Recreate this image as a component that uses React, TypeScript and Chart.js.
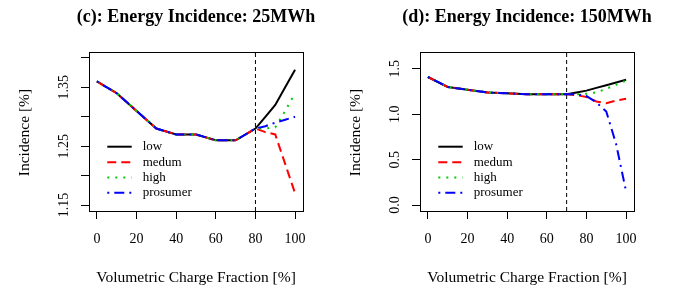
import React, { useEffect, useRef } from "react";
import { Chart, registerables } from "chart.js";

Chart.register(...registerables);

// ---------- data ----------
const X_TICKS = [0, 20, 40, 60, 80, 100];
const LEGEND_LABELS = ["low", "medum", "high", "prosumer"];

// Panel (c): 25 MWh
const TITLE_25 = "(c): Energy Incidence: 25MWh";
const X_25 = [0, 10, 20, 30, 40, 50, 60, 70, 80, 85, 90, 95, 100];
const LOW_25 = [1.36, 1.34, 1.31, 1.28, 1.27, 1.27, 1.26, 1.26, 1.28, 1.3, 1.32, 1.35, 1.38];
const MED_25 = [1.36, 1.34, 1.31, 1.28, 1.27, 1.27, 1.26, 1.26, 1.28, 1.274, 1.27, 1.22, 1.17];
const HIGH_25 = [1.36, 1.34, 1.31, 1.28, 1.27, 1.27, 1.26, 1.26, 1.28, 1.28, 1.282, 1.31, 1.34];
const PROS_25 = [1.36, 1.34, 1.31, 1.28, 1.27, 1.27, 1.26, 1.26, 1.28, 1.284, 1.29, 1.295, 1.3];
const VLINE_25 = 80;
const Y_TICKS_25 = [1.15, 1.2, 1.25, 1.3, 1.35, 1.4];
const Y_LABELS_25 = ["1.15", "", "1.25", "", "1.35", ""];
const Y_RANGE_25 = [1.14, 1.41];

// Panel (d): 150 MWh
const TITLE_150 = "(d): Energy Incidence: 150MWh";
const X_150 = [0, 10, 20, 30, 40, 50, 60, 70, 75, 80, 85, 90, 95, 100];
const LOW_150 = [1.41, 1.3, 1.27, 1.24, 1.23, 1.22, 1.22, 1.22, 1.24, 1.26, 1.29, 1.32, 1.35, 1.38];
const MED_150 = [1.41, 1.3, 1.27, 1.24, 1.23, 1.22, 1.22, 1.22, 1.21, 1.19, 1.14, 1.12, 1.15, 1.17];
const HIGH_150 = [1.41, 1.3, 1.27, 1.24, 1.23, 1.22, 1.22, 1.22, 1.22, 1.225, 1.24, 1.28, 1.325, 1.37];
const PROS_150 = [1.41, 1.3, 1.27, 1.24, 1.23, 1.22, 1.22, 1.22, 1.22, 1.2, 1.13, 1.03, 0.67, 0.15];
const VLINE_150 = 70;
const Y_TICKS_150 = [0, 0.5, 1.0, 1.5];
const Y_LABELS_150 = ["0.0", "0.5", "1.0", "1.5"];
const Y_RANGE_150 = [-0.065, 1.685];

const X_RANGE = [-4, 104];
const X_TITLE = "Volumetric Charge Fraction [%]";
const Y_TITLE = "Incidence [%]";

// ---------- styles ----------
const FONT = '"Liberation Serif", "DejaVu Serif", serif';
const SERIES_STYLE = [
  { color: "#000000", dash: [] as number[] },
  { color: "#FF0000", dash: [9, 5] },
  { color: "#00CD00", dash: [2, 6] },
  { color: "#0000FF", dash: [2, 5, 10, 5] },
];

type PanelProps = {
  width: number;
  boxLeft: number;
  boxRight: number;
  title: string;
  xs: number[];
  series: number[][];
  vline: number;
  yTicks: number[];
  yLabels: string[];
  yRange: number[];
};

const BOX_TOP = 52;
const BOX_BOTTOM = 211;
const HEIGHT = 288;

function Panel(p: PanelProps) {
  const ref = useRef<HTMLCanvasElement>(null);
  useEffect(() => {
    if (!ref.current) return;
    const datasets: any[] = p.series.map((ys, i) => ({
      label: LEGEND_LABELS[i],
      data: p.xs.map((x, j) => ({ x, y: ys[j] })),
      borderColor: SERIES_STYLE[i].color,
      borderWidth: 2,
      borderDash: SERIES_STYLE[i].dash,
      borderCapStyle: "butt",
      pointRadius: 0,
      tension: 0,
      fill: false,
      order: 4 - i,
    }));
    datasets.push({
      label: "threshold",
      data: [
        { x: p.vline, y: p.yRange[0] },
        { x: p.vline, y: p.yRange[1] },
      ],
      borderColor: "#000000",
      borderWidth: 1,
      borderDash: [4, 3],
      pointRadius: 0,
      fill: false,
      order: 10,
    });

    const decor = {
      id: "decor",
      afterDraw(chart: any) {
        const ctx = chart.ctx;
        const a = chart.chartArea;
        const ys = chart.scales.y;
        ctx.save();
        // box
        ctx.strokeStyle = "#000";
        ctx.lineWidth = 1;
        ctx.setLineDash([]);
        ctx.strokeRect(Math.round(a.left) + 0.5, Math.round(a.top) + 0.5, Math.round(a.right - a.left), Math.round(a.bottom - a.top));
        const cx = (a.left + a.right) / 2;
        ctx.fillStyle = "#000";
        // title
        ctx.font = `bold 18px ${FONT}`;
        ctx.textAlign = "center";
        ctx.textBaseline = "alphabetic";
        ctx.fillText(p.title, cx, 21.5);
        // x title
        ctx.font = `15.5px ${FONT}`;
        ctx.fillText(X_TITLE, cx, 282);
        // y title
        ctx.save();
        ctx.translate(a.left - 60.5, (a.top + a.bottom) / 2 + 1);
        ctx.rotate(-Math.PI / 2);
        ctx.fillText(Y_TITLE, 0, 0);
        ctx.restore();
        // y tick labels
        ctx.font = `14px ${FONT}`;
        p.yTicks.forEach((v, i) => {
          const lab = p.yLabels[i];
          if (!lab) return;
          const py = ys.getPixelForValue(v);
          ctx.save();
          ctx.translate(a.left - 21.5, py);
          ctx.rotate(-Math.PI / 2);
          ctx.fillText(lab, 0, 0);
          ctx.restore();
        });
        // legend
        const rows = [146.7, 162.2, 177.5, 192.7];
        ctx.font = `13px ${FONT}`;
        ctx.textAlign = "left";
        ctx.textBaseline = "middle";
        for (let i = 0; i < 4; i++) {
          const ds = chart.data.datasets[i];
          const y = rows[i];
          ctx.beginPath();
          ctx.strokeStyle = ds.borderColor;
          ctx.lineWidth = 2;
          ctx.lineCap = "butt";
          ctx.setLineDash(ds.borderDash || []);
          ctx.moveTo(a.left + 18.3, y);
          ctx.lineTo(a.left + 42.7, y);
          ctx.stroke();
          ctx.setLineDash([]);
          ctx.fillStyle = "#000";
          ctx.fillText(ds.label, a.left + 53.7, y);
        }
        ctx.restore();
      },
    };

    const gridOpts = {
      display: true,
      drawOnChartArea: false,
      drawTicks: true,
      tickLength: 8,
      color: "#000",
      lineWidth: 1,
    };

    const chart = new Chart(ref.current, {
      type: "line",
      data: { datasets },
      options: {
        animation: false,
        responsive: false,
        devicePixelRatio: 1,
        layout: {
          padding: { left: 0, top: BOX_TOP, right: p.width - p.boxRight, bottom: 0 },
        },
        plugins: {
          legend: { display: false },
          title: { display: false },
          tooltip: { enabled: false },
        },
        scales: {
          x: {
            type: "linear",
            min: X_RANGE[0],
            max: X_RANGE[1],
            bounds: "data",
            afterBuildTicks: (s: any) => {
              s.ticks = X_TICKS.map((v) => ({ value: v }));
            },
            afterFit: (s: any) => {
              s.height = HEIGHT - BOX_BOTTOM;
            },
            ticks: {
              autoSkip: false,
              maxRotation: 0,
              minRotation: 0,
              padding: 12,
              color: "#000",
              font: { family: FONT, size: 14 },
              callback: (v: any) => String(v),
            },
            grid: gridOpts,
            border: { display: false },
          },
          y: {
            type: "linear",
            min: p.yRange[0],
            max: p.yRange[1],
            bounds: "data",
            afterBuildTicks: (s: any) => {
              s.ticks = p.yTicks.map((v) => ({ value: v }));
            },
            afterFit: (s: any) => {
              s.width = p.boxLeft;
            },
            ticks: { display: false },
            grid: gridOpts,
            border: { display: false },
          },
        },
      } as any,
      plugins: [decor],
    });
    return () => chart.destroy();
  }, []);
  return (
    <canvas
      ref={ref}
      width={p.width}
      height={HEIGHT}
      style={{ display: "block", width: p.width, height: HEIGHT }}
    />
  );
}

export default function App() {
  return (
    <div
      style={{
        position: "fixed",
        left: 0,
        top: 0,
        width: 681,
        height: HEIGHT,
        background: "#fff",
        display: "flex",
      }}
    >
      <Panel
        width={340}
        boxLeft={89}
        boxRight={303}
        title={TITLE_25}
        xs={X_25}
        series={[LOW_25, MED_25, HIGH_25, PROS_25]}
        vline={VLINE_25}
        yTicks={Y_TICKS_25}
        yLabels={Y_LABELS_25}
        yRange={Y_RANGE_25}
      />
      <Panel
        width={341}
        boxLeft={80}
        boxRight={294}
        title={TITLE_150}
        xs={X_150}
        series={[LOW_150, MED_150, HIGH_150, PROS_150]}
        vline={VLINE_150}
        yTicks={Y_TICKS_150}
        yLabels={Y_LABELS_150}
        yRange={Y_RANGE_150}
      />
    </div>
  );
}
